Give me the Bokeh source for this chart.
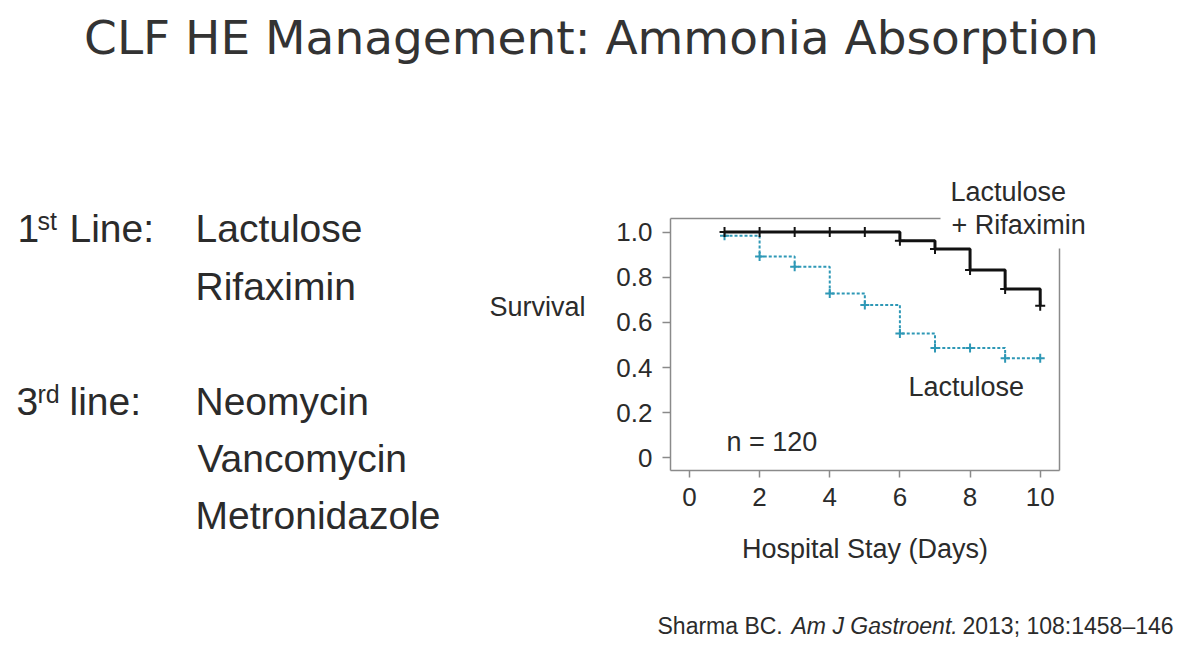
from bokeh.plotting import figure
from bokeh.models import Label, LinearAxis, FixedTicker, Range1d
from bokeh.embed import file_html
from bokeh.resources import INLINE

# ---- data ----
days = [1, 2, 3, 4, 5, 6, 7, 8, 9, 10]
surv_lac_rif = [1.0, 1.0, 1.0, 1.0, 1.0, 0.961, 0.925, 0.832, 0.748, 0.674]
surv_lac = [0.984, 0.892, 0.846, 0.728, 0.677, 0.551, 0.487, 0.487, 0.441, 0.441]
x_ticks = [0, 2, 4, 6, 8, 10]
y_ticks = [0, 0.2, 0.4, 0.6, 0.8, 1.0]
y_tick_labels = ["0", "0.2", "0.4", "0.6", "0.8", "1.0"]

W, H = 1191, 645
TXT = "#2b2b2b"
GRID = "#8a8a8a"
BLUE = "#2e98b6"
SANS = "Liberation Sans"

# ---- background figure: page-wide texts (canvas pixel coordinates) ----
bg = figure(width=W, height=H, output_backend="svg", toolbar_location=None,
            x_range=Range1d(0, W), y_range=Range1d(H, 0), min_border=0,
            outline_line_color=None, background_fill_color="white",
            border_fill_color="white")
bg.axis.visible = False
bg.grid.visible = False


def lab(text, x, y, size, font=SANS, align="left", style="normal", color=TXT):
    bg.add_layout(Label(x=x, y=y, text=text, text_font=font, text_font_size=size,
                        text_align=align, text_baseline="middle", text_font_style=style,
                        text_color=color))

# title
lab("CLF HE Management: Ammonia Absorption", 591, 37, "47px", font="DejaVu Sans",
    align="center", color="#333333")

# left list
lab("1", 17, 228, "39px")
lab("st", 37, 220, "25px")
lab("Line:", 69, 228, "39px")
lab("Lactulose", 195, 228, "39px")
lab("Rifaximin", 195, 286, "39px")
lab("3", 16, 401, "39px")
lab("rd", 37, 393, "25px")
lab("line:", 69, 401, "39px")
lab("Neomycin", 195, 401, "39px")
lab("Vancomycin", 197, 458, "39px")
lab("Metronidazole", 195, 515, "39px")

# chart annotations outside the frame
lab("Survival", 489, 306, "27px")
lab("Lactulose", 950, 191, "27px")
lab("+ Rifaximin", 951, 224, "27px")

# citation
lab("Sharma BC.", 657, 625, "23px")
lab("Am J Gastroent.", 791, 625, "23px", style="italic")
lab("2013; 108:1458\u2013146", 962, 625, "23px")

# ---- chart figure, overlaid on the background ----
p = figure(width=W, height=H, output_backend="svg", toolbar_location=None,
           x_range=Range1d(-0.54, 10.55), y_range=Range1d(-0.056, 1.06),
           min_border_left=670, min_border_right=W - 1059, min_border_top=218,
           min_border_bottom=H - 470, outline_line_color=None,
           background_fill_color=None, border_fill_color=None,
           margin=(-H, 0, 0, 0))
p.grid.visible = False

for ax in (p.xaxis, p.yaxis):
    ax.axis_line_color = GRID
    ax.axis_line_width = 1.5
    ax.major_tick_line_color = GRID
    ax.major_tick_line_width = 1.5
    ax.minor_tick_line_color = None
    ax.major_tick_in = 0
    ax.major_label_text_color = TXT
    ax.major_label_text_font = SANS
    ax.major_label_text_font_size = "26px"
p.xaxis.ticker = FixedTicker(ticks=x_ticks)
p.yaxis.ticker = FixedTicker(ticks=y_ticks)
p.yaxis.major_label_overrides = {t: l for t, l in zip(y_ticks, y_tick_labels)}
p.xaxis.major_tick_out = 7
p.yaxis.major_tick_out = 8
p.yaxis.major_label_standoff = 10
p.xaxis.major_label_standoff = 10
p.xaxis.axis_label = "Hospital Stay (Days)"
p.xaxis.axis_label_text_font = SANS
p.xaxis.axis_label_text_font_style = "normal"
p.xaxis.axis_label_text_font_size = "27px"
p.xaxis.axis_label_text_color = TXT
p.xaxis.axis_label_standoff = 25

# partial top and right frame lines
top = LinearAxis(bounds=(-0.54, 7.16), ticker=FixedTicker(ticks=[]),
                 axis_line_color=GRID, axis_line_width=1.5)
right = LinearAxis(bounds=(-0.056, 0.926), ticker=FixedTicker(ticks=[]),
                   axis_line_color=GRID, axis_line_width=1.5)
p.add_layout(top, "above")
p.add_layout(right, "right")

# curves
p.step(days, surv_lac, mode="after", line_color=BLUE, line_width=2, line_dash="3 2")
p.scatter(days, surv_lac, marker="cross", size=9, line_color=BLUE, line_width=2)
p.step(days, surv_lac_rif, mode="after", line_color="#111111", line_width=3)
p.scatter(days, surv_lac_rif, marker="cross", size=10, line_color="#111111", line_width=2)

p.add_layout(Label(x=726, y=441, x_units="canvas", y_units="canvas", text="n = 120",
                   text_font=SANS, text_font_size="27px", text_color=TXT,
                   text_baseline="middle"))
p.add_layout(Label(x=908, y=386, x_units="canvas", y_units="canvas", text="Lactulose",
                   text_font=SANS, text_font_size="27px", text_color=TXT,
                   text_baseline="middle"))

open("out.html", "w").write(file_html([bg, p], INLINE))
